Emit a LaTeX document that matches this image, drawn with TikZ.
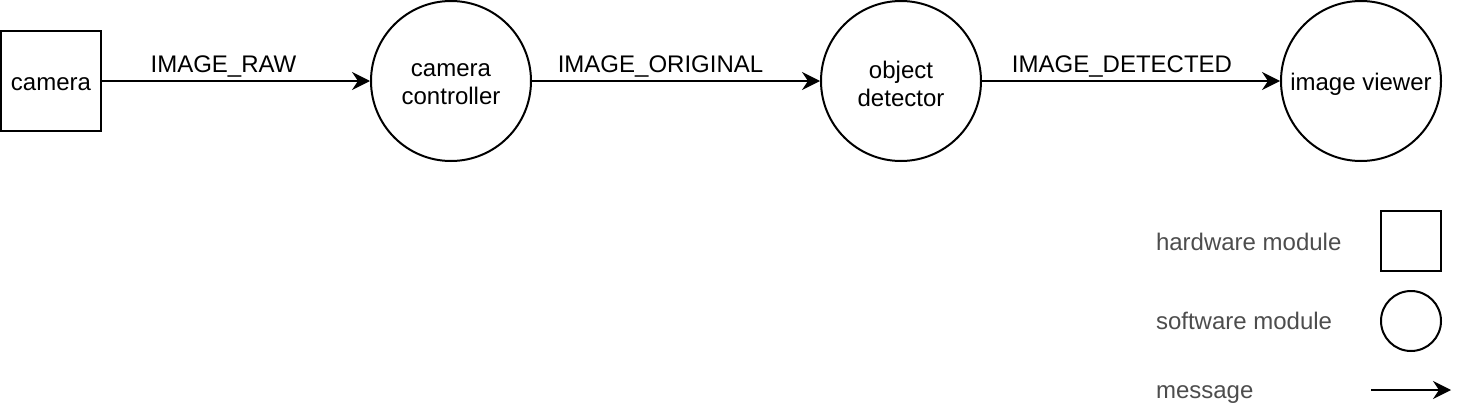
\documentclass[tikz,border=0pt]{standalone}
\usepackage{fontspec}
\setmainfont{Liberation Sans}
\usetikzlibrary{arrows.meta}
\definecolor{legendgray}{HTML}{4D4D4D}
\begin{document}
\begin{tikzpicture}[x=0.5pt,y=-0.5pt, line width=1pt,
  font=\fontsize{12}{14}\selectfont,
  hw/.style={draw, minimum size=50pt, inner sep=0pt},
  sw/.style={draw, circle, minimum size=80pt, inner sep=0pt},
  tx/.style={label={[yshift=-1.5pt, align=center, inner sep=0pt]center:#1}},
  msg/.style={-{Stealth[length=9pt,width=9pt,inset=3pt]}},
  lbl/.style={anchor=base, inner sep=0pt},
  leg/.style={anchor=base west, inner sep=0pt, text=legendgray}]
\useasboundingbox (0,0) rectangle (1468,412);
% main chain
\node[hw, tx={camera}] (cam) at (51,81) {};
\node[sw, tx={camera\\controller}] (ctrl) at (451,81) {};
\node[sw, tx={object\\detector}] (det) at (901,81) {};
\node[sw, tx={image viewer}] (view) at (1361,81) {};
\draw[msg] (cam) -- (ctrl);
\draw[msg] (ctrl) -- (det);
\draw[msg] (det) -- (view);
\node[lbl] (l1) at (223.5,72) {IMAGE\_RAW};
\node[lbl] (l2) at (660.5,72) {IMAGE\_ORIGINAL};
\node[lbl] (l3) at (1122,72) {IMAGE\_DETECTED};
% legend
\node[leg] (t1) at (1155,250) {hardware module};
\node[hw, minimum size=30pt] (lb) at (1411,241) {};
\node[leg] (t2) at (1155,329) {software module};
\node[sw, minimum size=30pt] (lc) at (1411,321) {};
\node[leg] (t3) at (1155,398) {message};
\coordinate (m1) at (1371,390);
\coordinate (m2) at (1451,390);
\draw[msg] (m1) -- (m2);
\end{tikzpicture}
\end{document}
